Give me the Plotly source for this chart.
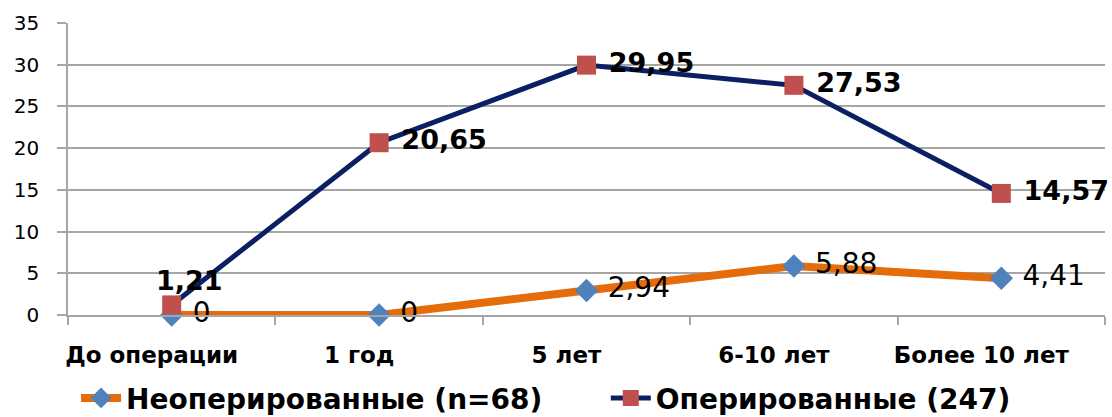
import plotly.graph_objects as go

categories = ["До операции", "1 год", "5 лет", "6-10 лет", "Более 10 лет"]
non_operated = [0, 0, 2.94, 5.88, 4.41]
operated = [1.21, 20.65, 29.95, 27.53, 14.57]
name_non = "Неоперированные (n=68)"
name_op = "Оперированные (247)"
y_ticks = [0, 5, 10, 15, 20, 25, 30, 35]


def fmt(v):
    return f"{v:g}".replace(".", ",")


FONT = "DejaVu Sans"
GRID = "#a6a6a6"
NBSP = "\u00a0"

fig = go.Figure()
fig.add_trace(go.Scatter(
    x=categories, y=non_operated, name=name_non + NBSP * 6,
    mode="lines+markers+text",
    line=dict(color="#e46c0a", width=8),
    marker=dict(symbol="diamond", size=18, color="#4f81bd"),
    text=[" " + fmt(v) for v in non_operated],
    textposition="middle right",
    textfont=dict(family=FONT, size=28, color="black"),
    cliponaxis=False,
))
fig.add_trace(go.Scatter(
    x=categories, y=operated, name=name_op,
    mode="lines+markers+text",
    line=dict(color="#0b1f63", width=5),
    marker=dict(symbol="square", size=19, color="#c0504d"),
    text=["" if i == 0 else "<b> " + fmt(v) + "</b>" for i, v in enumerate(operated)],
    textposition="middle right",
    textfont=dict(family=FONT, size=27, color="black"),
    cliponaxis=False,
))
# first operated label sits above its marker
fig.add_annotation(
    x=categories[0], y=operated[0], text="<b>" + fmt(operated[0]) + "</b>",
    showarrow=False, xshift=18, yshift=24,
    font=dict(family=FONT, size=27, color="black"),
)

fig.update_layout(
    width=1112, height=417,
    margin=dict(l=68, r=7, t=23, b=102, autoexpand=False),
    plot_bgcolor="white", paper_bgcolor="white",
    font=dict(family=FONT, color="black"),
    showlegend=True,
    legend=dict(
        orientation="h", xref="paper", x=0.461, xanchor="center",
        yref="container", y=0.045, yanchor="middle",
        font=dict(family=FONT, size=28, color="black", weight="bold"),
        itemwidth=40, tracegroupgap=0,
    ),
)
fig.update_xaxes(
    type="category", showgrid=False, range=[-0.5, 4.5], automargin=False,
    showline=True, linecolor=GRID, linewidth=1.5,
    ticks="outside", tickson="boundaries", ticklen=8, tickcolor=GRID, tickwidth=1.5,
    tickfont=dict(family=FONT, size=23, color="black", weight="bold"),
    ticklabelstandoff=19, ticklabelshift=-20,
)
fig.update_yaxes(
    range=[0, 35], tickvals=y_ticks, automargin=False,
    showgrid=True, gridcolor=GRID, gridwidth=1.5,
    showline=True, linecolor=GRID, linewidth=1.5,
    ticks="outside", ticklen=9, tickcolor=GRID, tickwidth=1.5,
    tickfont=dict(family=FONT, size=20, color="black"),
    zeroline=False,
    ticklabelstandoff=14,
)

fig.write_html("out.html")
